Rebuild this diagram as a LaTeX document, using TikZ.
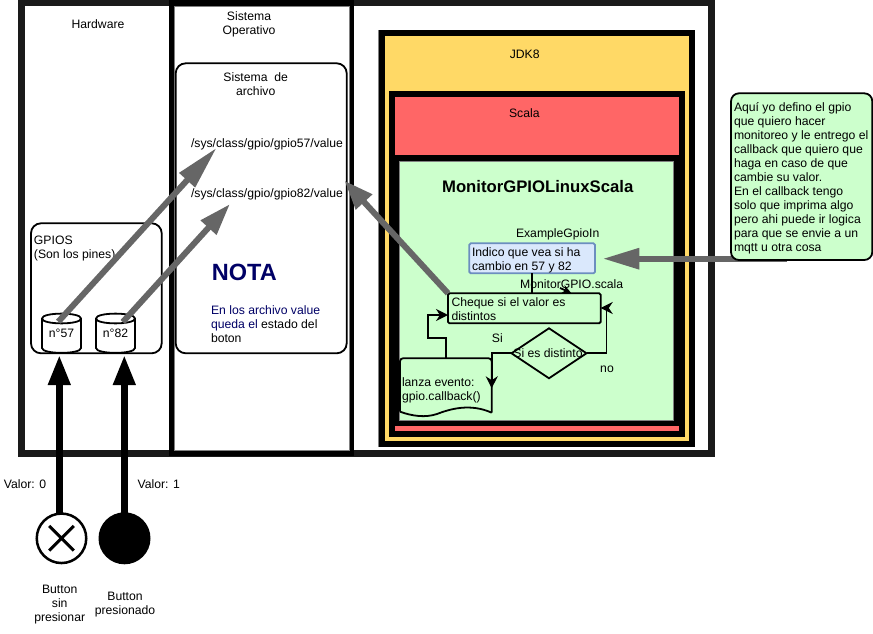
\documentclass[tikz,border=0pt]{standalone}
\usepackage{fontspec}
\setmainfont{Liberation Sans}
\usetikzlibrary{shapes.geometric,arrows.meta,calc}
\definecolor{navytxt}{HTML}{000066}
\definecolor{greyarrow}{HTML}{666666}
\definecolor{jdkfill}{HTML}{FFD966}
\definecolor{scalafill}{HTML}{FF6666}
\definecolor{greenfill}{HTML}{CCFFCC}
\definecolor{bluefill}{HTML}{DAE8FC}
\definecolor{blueedge}{HTML}{6C8EBF}
\definecolor{frameblk}{HTML}{1A1A1A}
\tikzset{
  every node/.style={font=\fontsize{12.2}{14}\selectfont,inner sep=0pt,outer sep=0pt},
  plainbox/.style={rectangle,anchor=north west,minimum width=#1},
  round box/.style={draw=black,line width=1.8pt,rounded corners=10pt},
  thick frame/.style={line width=6pt,draw=black},
  flow/.style={draw=black,line width=1.8pt,line join=miter,-{Stealth[length=12pt,width=12pt]}},
  plainflow/.style={draw=black,line width=1.8pt},
  greyline/.style={draw=greyarrow,line width=6pt},
  pinbody/.style={draw=black,line width=1.8pt,fill=white},
  pressarrow/.style={draw=black,line width=7pt,-{Triangle[length=30pt,width=21pt]}}
}
\begin{document}
\begin{tikzpicture}[x=1pt,y=-1pt]
\useasboundingbox (0,0) rectangle (873,634);
\fill[white] (0,0) rectangle (873,634);

% frames
\draw[draw=frameblk,line width=7pt] (21.5,3) rectangle (711.5,453.5);
\draw[draw=black,line width=5.5pt] (171.7,3) rectangle (351.5,453);
\draw[draw=gray,line width=.6pt] (174.7,6) rectangle (349,450);

% JDK / Scala / app
\draw[draw=gray,line width=.6pt] (378.6,30.3) rectangle (694.2,446.7);
\draw[thick frame,fill=jdkfill] (381.5,33.5) rectangle (691.5,443.7);
\draw[thick frame,fill=scalafill] (391.5,93.5) rectangle (681.5,433.5);
\draw[thick frame,fill=greenfill] (396.3,158.3) rectangle (676.3,423);
\draw[draw=gray,line width=.6pt] (399.5,161.5) rectangle (673.2,420);

\node (jdk) at (524.7,54) {JDK8};
\node (scala) at (524.3,113.5) {Scala};
\node[font=\fontsize{16.7}{18}\selectfont\bfseries] (appname) at (537.7,186.5) {MonitorGPIOLinuxScala};

% left titles
\node (hw) at (98,24) {Hardware};
\node[align=center] (so) at (249,24) {Sistema\\Operativo};

% file system box
\node[plainbox=171pt,minimum height=290pt,round box] (fs) at (175.7,63.3) {};
\node[align=center] (fstitle) at (255.7,84) {Sistema~ de\\archivo};
\node (path57) at (267,144) {/sys/class/gpio/gpio57/value};
\node (path82) at (267,194) {/sys/class/gpio/gpio82/value};
\node[text=navytxt,font=\fontsize{23.5}{26}\selectfont\bfseries] (nota) at (244.3,272.5) {NOTA};
\node[align=left,anchor=north west] (notatxt) at (211,305.7) {\textcolor{navytxt}{En los archivo value}\\\textcolor{navytxt}{queda el} estado del\\boton};

% GPIOS box
\node[plainbox=130.7pt,minimum height=130pt,round box] (gpios) at (31,223.3) {};
\node[align=left,anchor=north west] (gpiostxt) at (34,235.7) {GPIOS\\(Son los pines)};
\draw[pinbody] (42,318.5) .. controls (42,312) and (81,312) .. (81,318.5) -- (81,348) .. controls (81,354.5) and (42,354.5) .. (42,348) -- cycle;
\draw[pinbody] (42,318.5) .. controls (42,325) and (81,325) .. (81,318.5);
\draw[pinbody] (96,318.5) .. controls (96,312) and (135,312) .. (135,318.5) -- (135,348) .. controls (135,354.5) and (96,354.5) .. (96,348) -- cycle;
\draw[pinbody] (96,318.5) .. controls (96,325) and (135,325) .. (135,318.5);
\node (n57) at (61.5,333.5) {n°57};
\node (n82) at (115.5,333.5) {n°82};

% buttons
\node[circle,draw=black,line width=2.5pt,fill=white,minimum size=49.5pt] (btn0) at (61.5,538.3) {};
\draw[line width=3pt] ($(btn0)+(-12.3,-12.3)$) -- ($(btn0)+(12.3,12.3)$) ($(btn0)+(-12.3,12.3)$) -- ($(btn0)+(12.3,-12.3)$);
\node[circle,fill=black,minimum size=52pt] (btn1) at (124.5,538.3) {};
\node (val0) at (25,483.7) {Valor: 0};
\node (val1) at (158.7,483.7) {Valor: 1};
\node[align=center] (btn0txt) at (59.7,604.5) {Button\\sin\\presionar};
\node[align=center] (btn1txt) at (125,604.5) {Button\\presionado};

\coordinate (press0) at (59.3,513);
\coordinate (press1) at (124.3,513);
\coordinate (pin0) at (59.3,355);
\coordinate (pin1) at (124.3,355);
\draw[pressarrow] (press0) -- (pin0);
\draw[pressarrow] (press1) -- (pin1);

% flowchart
\node (example) at (557.7,234) {ExampleGpioIn};
\node[plainbox=125.7pt,minimum height=30pt,draw=blueedge,fill=bluefill,line width=1.8pt,rounded corners=1.5pt] (indico) at (469.3,243.3) {};
\node[align=left,anchor=north west] (indicotxt) at (472,247.7) {Indico que vea si ha\\cambio en 57 y 82};
\node[plainbox=152.7pt,minimum height=30pt,draw=black,line width=1.8pt,rounded corners=1.5pt] (cheque) at (448,293.3) {};
\node[align=left,anchor=north west] (chequetxt) at (451.5,298) {Cheque si el valor es\\distintos};
\node[diamond,draw=black,line width=1.8pt,minimum width=75pt,minimum height=50pt,aspect=1.5] (dec) at (549,353.3) {};
\node (dectxt) at (548,353.3) {Si es distinto};
\node[plainbox=91.7pt,minimum height=55pt] (doc) at (400,358.3) {};
\draw[line width=1.8pt,rounded corners=3pt] (400,411.7) -- (doc.north west) -- (doc.north east) [sharp corners] -- (491.7,412.7);
\draw[line width=1.8pt] (491.7,412.7) .. controls (470,403) and (450,409) .. (437,414) .. controls (425,418) and (412,416) .. (400,411.7);
\node[align=left,anchor=north west] (doctxt) at (402,378) {lanza evento:\\gpio.callback()};

\draw[plainflow] (indico.south -| 532.3,0) -- (cheque.north -| 532.3,0);
\draw[flow,-{Stealth[length=9pt,width=9pt]}] (560,288) -- (571,292.8);
\node (monitor) at (571.7,284) {MonitorGPIO.scala};
\draw[flow] (dec.east) -- ++(20,0) |- (cheque.east |- 0,308);
\draw[flow] (dec.west) -| ($(doc.north east)+(0,30)$);
\draw[flow] (doc.north -| 445.7,0) -- (445.7,338.3) -- (428.3,338.3) |- (cheque.west |- 0,315);
\node (si) at (497.3,338.3) {Si};
\node (no) at (607,369) {no};

% grey arrows
\coordinate (g57s) at (58.3,321.7);
\coordinate (g57t) at (216.7,147.7);
\coordinate (g82s) at (122.8,322);
\coordinate (g82t) at (230,204);
\coordinate (fst) at (344.5,180.7);
\coordinate (cbs) at (787,258.7);
\coordinate (blt) at (602.7,258.7);
\draw[greyline,-{Triangle[length=44pt,width=20pt]}] (g57s) -- (g57t);
\draw[greyline,-{Triangle[length=32pt,width=20pt]}] (g82s) -- (g82t);
\draw[greyline,-{Triangle[length=29pt,width=21pt]}] (cheque.north west) -- (fst);
\draw[greyline,-{Triangle[length=36.6pt,width=20pt]}] (cbs) -- (blt);

% callout
\node[plainbox=141.3pt,minimum height=166.7pt,draw=black,fill=greenfill,line width=1.8pt,rounded corners=8pt] (callout) at (731,93.3) {};
\node[align=left,anchor=north west] (callouttxt) at (734,102.5) {Aquí yo defino el gpio\\que quiero hacer\\monitoreo y le entrego el\\callback que quiero que\\haga en caso de que\\cambie su valor.\\En el callback tengo\\solo que imprima algo\\pero ahi puede ir logica\\para que se envie a un\\mqtt u otra cosa};
\end{tikzpicture}
\end{document}
